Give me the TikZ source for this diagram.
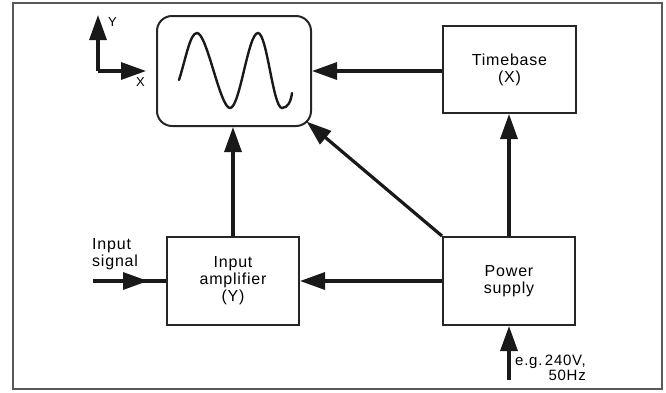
\documentclass[tikz,border=0pt]{standalone}
\usepackage{fontspec}
\setmainfont[LetterSpace=5]{Liberation Sans}
\usetikzlibrary{arrows.meta}

\tikzset{
  block/.style={draw=black!85, line width=2pt, rectangle, align=center,
    font=\fontsize{16}{17}\selectfont, inner sep=0pt},
  conn/.style={draw=black!90, line width=3.2pt},
  arrowto/.style={conn, -{Triangle[length=25pt,width=17pt]}},
  label/.style={font=\fontsize{16}{17}\selectfont, inner sep=0pt, align=left},
  axislabel/.style={font=\fontsize{13}{15}\selectfont, inner sep=0pt},
}

\begin{document}
\begin{tikzpicture}[x=1pt,y=-1pt]
  \useasboundingbox (0,0) rectangle (666,392);

  % outer frame
  \draw[black!65, line width=1.2pt] (13,3) rectangle (662,389);
  \draw[black!65, line width=2.4pt] (13,3) -- (662,3);

  % blocks
  \node[block, rounded corners=15pt, minimum width=154pt, minimum height=110pt] (scr) at (234,71) {};
  \node[block, minimum width=133pt, minimum height=87pt] (tb) at (509.5,69.5) {Timebase\\(X)};
  \node[block, minimum width=132pt, minimum height=88pt] (amp) at (233,281) {Input\\amplifier\\(Y)};
  \node[block, minimum width=132pt, minimum height=88pt] (ps) at (509,281) {Power\\supply};

  % trace on the screen
  \draw[black!90, line width=2.4pt, line cap=round]
    (179,80) .. controls (186,58) and (190,33) .. (197,33)
    .. controls (207,33) and (220,108) .. (230,108)
    .. controls (240,108) and (248,33) .. (258,33)
    .. controls (267,33) and (273,108) .. (282,108)
    .. controls (288,108) and (291,101) .. (292,93);

  % X/Y axes
  \coordinate (org) at (98,71);
  \coordinate (ytip) at (98,15);
  \coordinate (xtip) at (146,71);
  \draw[arrowto] (org) -- (ytip);
  \draw[arrowto] (org) -- (xtip);
  \node[axislabel, anchor=north west] (ylab) at (108,17) {Y};
  \node[axislabel, anchor=north west] (xlab) at (136,77) {X};

  % signal paths
  \draw[arrowto] (tb.west|-scr.east) -- (scr.east);
  \draw[arrowto] (ps.north) -- (ps.north|-tb.south);
  \draw[arrowto] (amp.north) -- (amp.north|-scr.south);
  \draw[arrowto] (ps.west) -- (amp.east);
  \coordinate (scrcorner) at (306.6,121.6);
  \draw[arrowto] (ps.north west) -- (scrcorner);

  % input signal
  \coordinate (insig) at (93,281);
  \coordinate (inmid) at (148,281);
  \draw[conn] (insig) -- (amp.west);
  \draw[arrowto] (insig) -- (inmid);
  \node[label, anchor=north west] (inlab) at (92,238) {Input\\signal};

  % mains supply
  \coordinate (mains) at (509,380);
  \draw[arrowto] (mains) -- (ps.south);
  \node[label, anchor=north west, align=right, font=\fontsize{15}{15}\selectfont] (mainslab) at (515,355) {e.g.\,240V,\\50Hz};
\end{tikzpicture}
\end{document}
